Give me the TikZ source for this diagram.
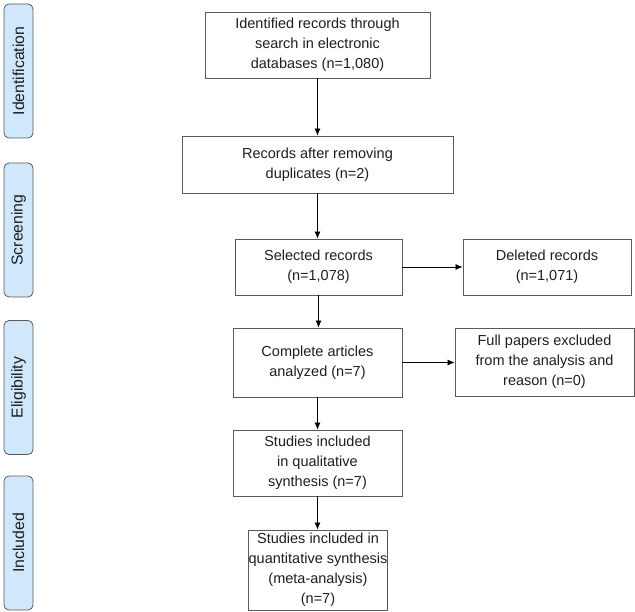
\documentclass[tikz,border=0pt]{standalone}
\usepackage{fontspec}
\setmainfont{Liberation Sans}
\usetikzlibrary{arrows.meta}
\definecolor{stagefill}{HTML}{CFE8FB}
\definecolor{lineclr}{HTML}{5A5A5A}
\definecolor{textclr}{HTML}{1E1E1E}
\begin{document}
\begin{tikzpicture}[x=1pt, y=-1pt,
    box/.style = {draw=lineclr, line width=0.8pt, align=center, inner sep=0pt,
                  text=textclr, font=\fontsize{14.5}{20}\selectfont},
    stage/.style = {draw=lineclr, fill=stagefill, rounded corners=5pt, line width=0.8pt,
                    minimum width=134pt, minimum height=29pt, rotate=90,
                    text=textclr, font=\fontsize{15.8}{17}\selectfont},
    arr/.style = {draw=black, line width=0.7pt, -{Latex[length=7pt,width=6pt]}}]
    \useasboundingbox (0,0) rectangle (635,612);
    % stages
    \node[stage] (ident) at (18.5,71)    {Identification};
    \node[stage] (screen) at (18.5,230)  {Screening};
    \node[stage] (elig) at (18.5,387.5)  {Eligibility};
    \node[stage] (incl) at (18.5,543)    {Included};
    % main column
    \node[box, minimum width=225pt, minimum height=66pt] (found) at (317.5,45)
        {Identified records through\\search in electronic\\databases (n=1,080)};
    \node[box, minimum width=271pt, minimum height=57pt] (dedup) at (317.5,164.5)
        {Records after removing\\duplicates (n=2)};
    \node[box, minimum width=167pt, minimum height=56pt] (select) at (318.5,267)
        {Selected records\\(n=1,078)};
    \node[box, minimum width=169pt, minimum height=69pt] (full) at (317.5,362.5)
        {Complete articles\\analyzed (n=7)};
    \node[box, minimum width=169pt, minimum height=66pt] (quali) at (317.5,463)
        {Studies included\\in qualitative\\synthesis (n=7)};
    \node[box, minimum width=136pt, minimum height=80pt] (quanti) at (318,570)
        {Studies included in\\quantitative synthesis\\(meta-analysis)\\(n=7)};
    % right column
    \node[box, minimum width=168pt, minimum height=56pt] (deleted) at (547,267)
        {Deleted records\\(n=1,071)};
    \node[box, minimum width=179pt, minimum height=68pt] (excl) at (544.5,362)
        {Full papers excluded\\from the analysis and\\reason (n=0)};
    % arrows
    \draw[arr] (found) -- (dedup);
    \draw[arr] (dedup) -- (dedup |- select.north);
    \draw[arr] (select) -- (select |- full.north);
    \draw[arr] (full) -- (quali);
    \draw[arr] (quali) -- (quali |- quanti.north);
    \draw[arr] (select) -- (deleted);
    \draw[arr] (full) -- (excl.west |- full);
\end{tikzpicture}
\end{document}
